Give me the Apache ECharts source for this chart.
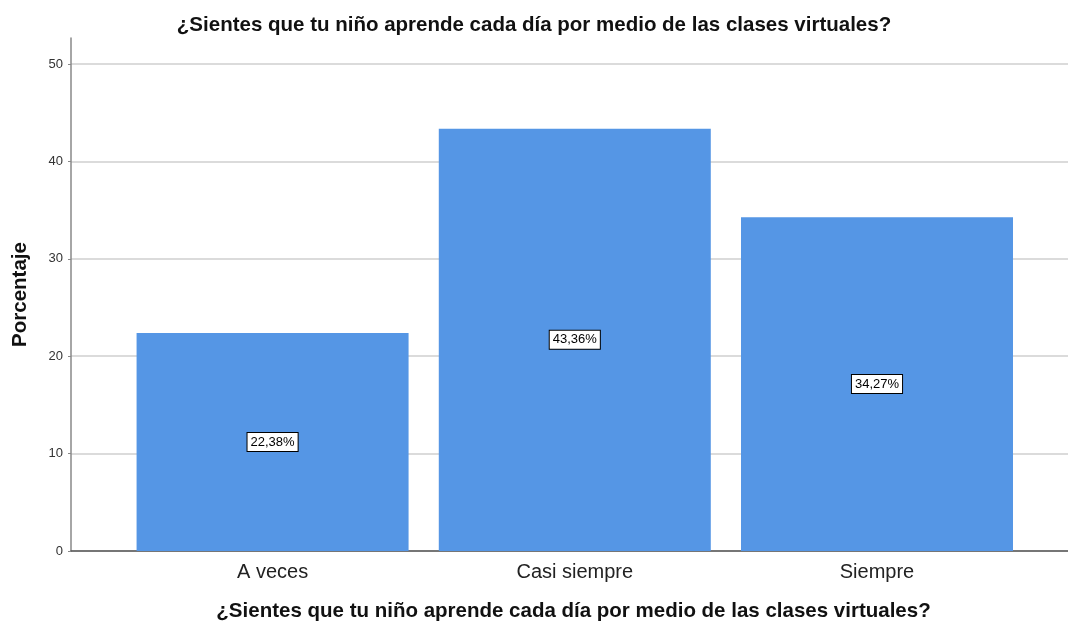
<!DOCTYPE html>
<html>
<head>
<meta charset="utf-8">
<script src="https://cdn.jsdelivr.net/npm/echarts@6/dist/echarts.min.js"></script>
<style>
  html, body { margin: 0; padding: 0; background: #fff; }
  #chart { width: 1068px; height: 626px; }
</style>
</head>
<body>
<div id="chart"></div>
<script>
'use strict';
/* porcentaje por respuesta */

var categories = ['A veces', 'Casi siempre', 'Siempre'];
var values = [22.38, 43.36, 34.27];
var yTicks = [0, 10, 20, 30, 40, 50];
var titleText = '¿Sientes que tu niño aprende cada día por medio de las clases virtuales?';

var chart = echarts.init(document.getElementById('chart'));

var barData = [];
for (var i = 0; i < values.length; i++) {
  barData.push([i + 1, values[i]]);
}

var option = {
  animation: false,
  textStyle: { fontFamily: 'Liberation Sans, Arial, sans-serif' },
  title: {
    text: titleText,
    left: 'center',
    top: 10,
    textStyle: { fontSize: 20.5, fontWeight: 'bold', color: '#111' }
  },
  grid: { left: 71, right: 0, top: 38, bottom: 75, outerBoundsMode: 'none', containLabel: false },
  xAxis: {
    type: 'value',
    min: 0.333,
    max: 3.632,
    name: titleText,
    nameLocation: 'middle',
    nameGap: 50,
    nameTextStyle: { fontSize: 20.5, fontWeight: 'bold', color: '#111', padding: [0, 0, 0, 8] },
    axisLine: { show: true, lineStyle: { color: '#555', width: 1.5 } },
    axisTick: { show: false },
    splitLine: { show: false },
    axisLabel: {
      customValues: [1, 2, 3],
      margin: 11,
      fontSize: 20,
      color: '#222',
      formatter: function (v) { return categories[Math.round(v) - 1] || ''; }
    }
  },
  yAxis: {
    type: 'value',
    min: 0,
    max: 52.67,
    interval: 10,
    name: 'Porcentaje',
    nameLocation: 'middle',
    nameGap: 40,
    nameTextStyle: { fontSize: 20.5, fontWeight: 'bold', color: '#111' },
    axisLine: { show: true, lineStyle: { color: '#888', width: 1.5 } },
    axisTick: { show: true, customValues: yTicks, length: 3, lineStyle: { color: '#888' } },
    axisLabel: { customValues: yTicks, fontSize: 13, color: '#333', margin: 8 },
    splitLine: {
      show: true,
      lineStyle: { color: ['#cfcfcf', '#cfcfcf', '#cfcfcf', '#cfcfcf', '#cfcfcf', '#cfcfcf', 'rgba(0,0,0,0)'], width: 1.5 }
    }
  },
  series: [{
    type: 'bar',
    barWidth: 272,
    data: barData,
    itemStyle: { color: '#5596e5' },
    label: {
      show: true,
      position: 'inside',
      formatter: function (p) { return p.value[1].toFixed(2).replace('.', ',') + '%'; },
      fontSize: 13,
      color: '#000',
      backgroundColor: '#fff',
      borderColor: '#000',
      borderWidth: 1,
      padding: [3, 3, 2, 3]
    }
  }]
};

chart.setOption(option);
</script>
</body>
</html>
